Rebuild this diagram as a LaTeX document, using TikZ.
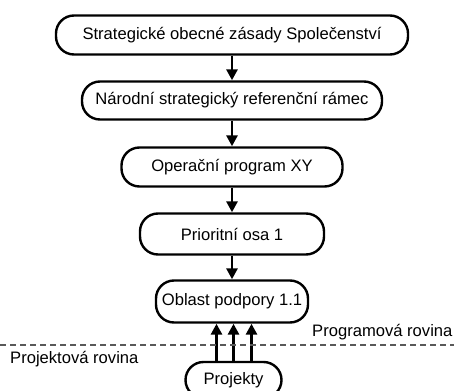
\documentclass[tikz,border=0pt]{standalone}
\usepackage{fontspec}
\setmainfont{Liberation Sans}
\usetikzlibrary{arrows.meta,calc}

\tikzset{
  stupen/.style={draw, line width=2.4pt, rounded corners=18pt, inner sep=0pt,
    font=\fontsize{16.6}{18}\selectfont},
  sipka/.style={line width=2.8pt, -{Triangle[length=11pt,width=11pt]}},
  rovina/.style={anchor=west, inner sep=0pt, font=\fontsize{16.6}{18}\selectfont}
}

\begin{document}
\begin{tikzpicture}[x=1pt,y=-1pt]
  \useasboundingbox (0,0) rectangle (454,390);

  \node[stupen, minimum width=352pt, minimum height=39pt] (zasady) at (232,35) {Strategické obecné zásady Společenství};
  \node[stupen, minimum width=300pt, minimum height=38pt] (ramec) at (232,100.5) {Národní strategický referenční rámec};
  \node[stupen, minimum width=221pt, minimum height=39pt] (program) at (232,167) {Operační program XY};
  \node[stupen, minimum width=184pt, minimum height=41pt] (osa) at (232,234) {Prioritní osa 1};
  \node[stupen, minimum width=152pt, minimum height=42pt] (oblast) at (232,301.5) {Oblast podpory 1.1};
  \node[stupen, minimum width=96pt, minimum height=36pt] (projekty) at (233.5,380) {Projekty};

  \draw[sipka] (zasady) -- (ramec);
  \draw[sipka] (ramec) -- (program);
  \draw[sipka] (program) -- (osa);
  \draw[sipka] (osa) -- (oblast);

  % projekty nahoru
  \foreach \dx in {-17,0,18}
    \draw[sipka] ([xshift=\dx pt]projekty.north) -- ([xshift=\dx pt]projekty.north |- oblast.south);

  \coordinate (levy) at (0,345);
  \coordinate (pravy) at (454,345);
  \draw[gray!70!black, line width=1.2pt, dash pattern=on 6pt off 4pt] (levy) -- (pravy);

  \node[rovina] (prog) at (312,332) {Programová rovina};
  \node[rovina] (proj) at (10,359) {Projektová rovina};
\end{tikzpicture}
\end{document}
